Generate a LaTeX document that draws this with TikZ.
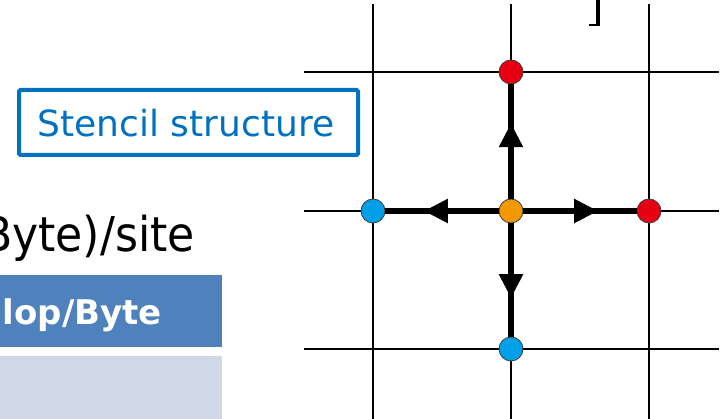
\documentclass[tikz,border=0pt]{standalone}
\usepackage{fontspec}
\setmainfont{DejaVu Sans}
\usetikzlibrary{arrows.meta,decorations.markings}
\definecolor{boxblue}{HTML}{0070C0}
\definecolor{headblue}{HTML}{4F81BD}
\definecolor{rowgray}{HTML}{D0D8E8}
\definecolor{dotred}{HTML}{E60012}
\definecolor{dotblue}{HTML}{00A0E9}
\definecolor{dotorange}{HTML}{F39800}
\definecolor{dotrim}{HTML}{3C3C3C}
\begin{document}
\begin{tikzpicture}[x=1pt,y=-1pt,
  gridline/.style={line width=2.6pt,black},
  site/.style={circle,minimum size=24pt,inner sep=0pt,draw=dotrim,line width=0.8pt},
  stencilarm/.style={line width=5.5pt,black,postaction={decorate},
    decoration={markings,mark=at position 0.66 with {\arrow{Triangle[width=23pt,length=24pt]}}}},
  label/.style={inner sep=0pt}]
\useasboundingbox (0,0) rectangle (723,419);
\clip (0,0) rectangle (723,419);

% table fragment on the left
\fill[headblue] (0,275) rectangle (222,347);
\fill[rowgray] (0,356) rectangle (222,419);
\node[label,anchor=base east,text=white,font=\fontsize{34}{40}\bfseries\selectfont] (hdr) at (162,325) {lop/Byte};
\node[label,anchor=base east,font=\fontsize{48}{56}\selectfont] (rate) at (195,252) {\scalebox{0.92}[1]{Byte)/site}};

% caption box
\node[label,anchor=base,text=boxblue,font=\fontsize{36}{42}\selectfont] (cap) at (186,137) {Stencil structure};
\draw[boxblue,line width=4pt,rounded corners=1.5pt] (19,90) rectangle (358,155);

% lattice
\foreach \y in {72,211,349} \draw[gridline] (304,\y) -- (719,\y);
\foreach \x in {373,511,649} \draw[gridline] (\x,4) -- (\x,419);

% closing bracket at the top edge
\draw[line width=4pt] (597.5,0) -- (597.5,25);
\draw[line width=2.2pt] (589,24.9) -- (599.5,24.9);

% lattice sites
\node[site,fill=dotorange] (c) at (511,211) {};
\node[site,fill=dotred] (n) at (511,72) {};
\node[site,fill=dotred] (e) at (649,211) {};
\node[site,fill=dotblue] (w) at (373,211) {};
\node[site,fill=dotblue] (s) at (511,349) {};

% stencil arms
\draw[stencilarm] (c) -- (n);
\draw[stencilarm] (c) -- (e);
\draw[stencilarm] (c) -- (w);
\draw[stencilarm] (c) -- (s);
\end{tikzpicture}
\end{document}
